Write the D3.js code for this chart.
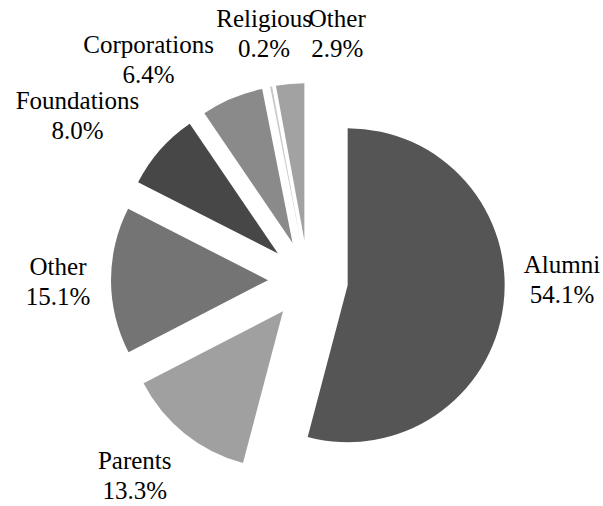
<!DOCTYPE html>
<html>
<head>
<meta charset="utf-8">
<script src="https://cdn.jsdelivr.net/npm/d3@7"></script>
<style>
  html, body { margin: 0; padding: 0; background: #fff; }
  svg { display: block; }
</style>
</head>
<body>
<svg id="chart" width="603" height="506"></svg>
<script>
// ---- data ----
const categories = ["Alumni", "Parents", "Other", "Foundations", "Corporations", "Religious", "Other"];
const shares = [54.1, 13.3, 15.1, 8.0, 6.4, 0.2, 2.9];
const percentLabels = ["54.1%", "13.3%", "15.1%", "8.0%", "6.4%", "0.2%", "2.9%"];

// ---- styling / layout (not data) ----
const sliceColors = ["#555555", "#a0a0a0", "#747474", "#474747", "#8a8a8a", "#c8c8c8", "#a2a2a2"];
const fontFamily = "Liberation Serif, Tinos, Times New Roman, Times, Nimbus Roman, FreeSerif, Noto Serif, DejaVu Serif";
const width = 603, height = 506;
const cx = 308, cy = 280;
const radius = 157;
const explode = 40;
const labelRadius = 250;
// label nudges to mimic the original label placement (collision avoidance)
const labelNudge = [[6, -33], [-17, 0], [0, 0], [-43, 0], [-63, 10], [3, -1], [52, 2]];

const svg = d3.select("#chart");
const g = svg.append("g").attr("transform", `translate(${cx},${cy})`);

const pie = d3.pie().sort(null).value(d => d.value);
const arcs = pie(categories.map((c, i) => ({ name: c, value: shares[i], pct: percentLabels[i], i })));
const arc = d3.arc().innerRadius(0).outerRadius(radius);

function dir(a) { return [Math.sin(a), -Math.cos(a)]; }

g.selectAll("path.slice")
  .data(arcs)
  .join("path")
  .attr("class", "slice")
  .attr("d", arc)
  .attr("fill", (d, i) => sliceColors[i])
  .attr("transform", d => {
    const [ux, uy] = dir((d.startAngle + d.endAngle) / 2);
    return `translate(${ux * explode},${uy * explode})`;
  });

const labels = g.selectAll("text.lbl")
  .data(arcs)
  .join("text")
  .attr("class", "lbl")
  .attr("text-anchor", "middle")
  .style("font-family", fontFamily)
  .style("font-size", "25px")
  .attr("fill", "#000")
  .attr("transform", (d, i) => {
    const [ux, uy] = dir((d.startAngle + d.endAngle) / 2);
    const x = ux * labelRadius + labelNudge[i][0];
    const y = uy * labelRadius + labelNudge[i][1];
    return `translate(${x},${y})`;
  });
labels.append("tspan").attr("x", 0).attr("y", -6).text(d => d.data.name);
labels.append("tspan").attr("x", 0).attr("y", 24).text(d => d.data.pct);
</script>
</body>
</html>
